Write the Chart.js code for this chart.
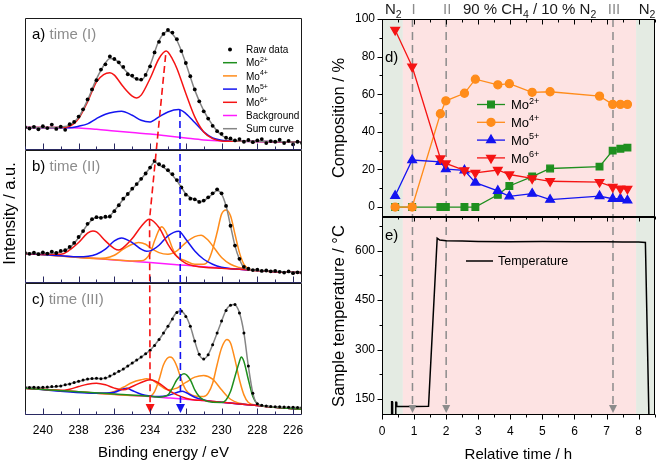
<!DOCTYPE html>
<html>
<head>
<meta charset="utf-8">
<script src="https://cdn.jsdelivr.net/npm/chart.js@4.4.0/dist/chart.umd.min.js"></script>
<style>
  html, body { margin: 0; padding: 0; background: #fff; }
  #wrap { position: relative; width: 661px; height: 464px; overflow: hidden; }
  #xps { position: absolute; left: 0; top: 0; }
  #evo { position: absolute; left: 330px; top: 0; }
</style>
</head>
<body>
<div id="wrap">
  <canvas id="xps" width="330" height="464"></canvas>
  <canvas id="evo" width="331" height="464"></canvas>
</div>
<script>
// ---------- XPS spectra (left), intensity in % of panel height ----------
var rawEnergy = [241, 240.75, 240.5, 240.25, 240, 239.75, 239.5, 239.25, 239, 238.75,
  238.5, 238.25, 238, 237.75, 237.5, 237.25, 237, 236.75, 236.5, 236.25,
  236, 235.75, 235.5, 235.25, 235, 234.75, 234.5, 234.25, 234, 233.75,
  233.5, 233.25, 233, 232.75, 232.5, 232.25, 232, 231.75, 231.5, 231.25,
  231, 230.75, 230.5, 230.25, 230, 229.75, 229.5, 229.25, 229, 228.75,
  228.5, 228.25, 228, 227.75, 227.5, 227.25, 227, 226.75, 226.5, 226.25,
  226, 225.75, 225.5];

var rawA = [17.5, 16.5, 17.8, 15.9, 18.2, 16.8, 19.5, 16.2, 17.9, 15.5,
  19.8, 21.5, 25.5, 31, 38.5, 46, 53, 61, 65, 71,
  69, 66.5, 63, 57.5, 56.5, 54, 53.5, 57, 63.5, 74,
  82, 88, 91, 89, 84, 75, 66, 56, 46, 37,
  29.5, 24, 18.5, 14.5, 12.5, 9.5, 9, 7.5, 8.5, 6.5,
  7.8, 6.2, 7.5, 8.5, 5.5, 7, 6.5, 8, 5.5, 7.2,
  4.5, 6.5, 5.5];
var rawB = [22.5, 21.8, 22.6, 21.5, 22.8, 22, 23.5, 22.4, 24, 24.5,
  27, 30, 34.5, 39, 44.5, 48, 49.5, 49, 49.8, 50,
  54, 58.5, 63.5, 67, 71, 74.5, 78.5, 82.5, 87, 92,
  89.5, 88, 85, 82, 77.5, 72, 66.5, 63.5, 63, 61,
  62, 64.5, 67.5, 70.5, 67.5, 58, 43, 28, 18, 12,
  10.5, 9.5, 9.8, 8.9, 9.2, 8.6, 8.9, 8.2, 7.6, 8.5,
  7.2, 7.8, 7.5];
var rawC = [21, 20.8, 21, 20.7, 20.9, 21.2, 21.5, 21.8, 22, 22.8,
  23.5, 24.5, 25.5, 26.5, 27.2, 27.5, 27.7, 27.4, 28, 29.5,
  31.2, 33, 34.8, 37, 39.3, 41.5, 43.8, 46.3, 49, 52.5,
  57, 62, 67, 72.5, 77.5, 78.5, 74.5, 67, 56, 46,
  42.3, 45.5, 53, 62, 71, 79, 83, 83.5, 77, 62,
  37, 16.5, 8.5, 7.3, 6.8, 6.5, 6.3, 6.2, 6, 5.9,
  5.8, 5.7, 5.6];

// fitted curves as [binding energy, intensity]
var sumA = [[241,17.2],[240,17.2],[239,17.7],[238.5,19],[238,25],[237.5,38],[237,54],[236.5,66],[236.25,69.4],[236,69],[235.5,62],[235,55.5],[234.5,53],[234,64.4],[233.5,83],[233,90],[232.5,83],[232,65.7],[231.5,45.5],[231,30],[230.5,19],[230,11.4],[229.5,8],[229,7],[228,6.8],[227,6.6],[226,6.3],[225.5,6.1]];
var mo6A = [[241,17.2],[239,17.2],[238.5,18.2],[238,24],[237.5,36.6],[237,51.8],[236.6,57.3],[236.25,58.6],[236,56.8],[235.5,48],[235,41],[234.75,39.6],[234.5,41.7],[234,54.3],[233.5,69.4],[233.1,75],[232.75,69],[232.5,61.9],[232,43],[231.5,25.3],[231,13.9],[230.5,8.8],[230,7.1],[229,6.8],[227,6.5],[225.5,6.2]];
var mo5A = [[241,17.2],[238.5,17],[238,18.2],[237.5,20],[237,24],[236.5,27.3],[236,29],[235.6,29.5],[235,26.5],[234.5,22.7],[234,21.5],[233.5,25.3],[233,29],[232.4,30.8],[232,27.8],[231.5,21],[231,13.9],[230.5,9.3],[230,7.6],[229.5,7],[229,6.8],[227,6.5],[225.5,6.2]];
var bgA = [[241,17.2],[239,17.2],[238,16.9],[237,15.9],[236,14.6],[235,13.4],[234,12.4],[233,10.9],[232,9.3],[231,7.8],[230,7],[229,6.8],[227,6.5],[225.5,6.2]];

var sumB = [[241,22.2],[240,22.2],[239,23.2],[238.5,26.5],[238,34],[237.5,44],[237.25,47.5],[237,49.2],[236.5,49.2],[236.25,50.5],[236,54.3],[235.5,63],[235,70.7],[234.5,78.3],[234,87],[233.75,91.2],[233.5,89],[233,84.6],[232.5,77],[232.25,72],[232,67],[231.75,64.4],[231.5,63],[231.2,61],[231,61.9],[230.5,67],[230.25,69.6],[230,67],[229.75,58],[229.5,43],[229.25,27.8],[229,17.7],[228.75,11.4],[228.5,10],[228,9.3],[227,8.6],[226,7.8],[225.5,7.6]];
var mo6B = [[241,22],[239,21.5],[238.5,24.7],[238,30.3],[237.5,37.4],[237.2,39.1],[237,38.4],[236.5,31.6],[236,25.8],[235.75,24.7],[235.5,26.5],[235,33.3],[234.5,42.4],[234.05,48],[233.5,41.7],[233,29],[232.5,19.7],[232,14.6],[231.5,12.6],[231,11.6],[230,10.8],[229,10.1],[228,9.1],[227,8.3],[225.5,7.6]];
var mo5B = [[241,22],[239,20.4],[238,19.5],[237,21.5],[236.5,25.3],[236,31.6],[235.6,33.8],[235,30.3],[234.5,25.3],[234.2,23.7],[234,24],[233.5,28.3],[233,35.4],[232.4,38.9],[232,32.8],[231.5,24],[231,17.7],[230.5,13.9],[230,11.6],[229.5,10.6],[229,10.1],[228,9.1],[227,8.3],[225.5,7.6]];
var mo4B1 = [[241,22],[238,19.2],[236,17.3],[235,16.4],[234.5,16.5],[234,22.2],[233.75,31.6],[233.5,39.9],[233.35,42.2],[233,35],[232.75,26],[232.5,20],[232,16.4],[231.5,13.9],[231,13.9],[230.75,16.4],[230.5,25.3],[230.25,37.9],[230,51.8],[229.75,55],[229.5,50.5],[229.25,36.6],[229,22.7],[228.75,13.9],[228.5,10.6],[228,9.1],[227,8.3],[225.5,7.6]];
var mo4B2 = [[241,22],[239,20.2],[237,18.3],[236.5,18.6],[236,20.7],[235.5,25.3],[235,29],[234.65,30.3],[234.25,29],[234,26.5],[233.5,22.7],[233,21.5],[232.5,24],[232,30.3],[231.5,34.8],[231.15,35.9],[230.75,32],[230.5,27.8],[230,19],[229.5,13.9],[229,11.4],[228.5,10],[228,9.1],[227,8.3],[225.5,7.6]];
var bgB = [[241,22],[240,21.2],[239,20.2],[238,19.2],[237,18.2],[236,17.2],[235,16.2],[234,15.2],[233,14.1],[232,13.1],[231,12.1],[230,11.1],[229,10.1],[228,9.1],[227,8.3],[226,7.8],[225.5,7.6]];

var sumC = [[241,21],[240,20.8],[239,22],[238.5,23.5],[238,25.3],[237.5,27.1],[237,27.6],[236.5,27.8],[236,31.1],[235.5,34.7],[235,39.2],[234.5,43.8],[234,48.9],[233.5,57],[233,67],[232.5,77.7],[232.3,78.5],[232,74.7],[231.75,67],[231.5,55.7],[231.25,45.6],[231,42.3],[230.75,45.6],[230.5,53.2],[230,70.9],[229.75,79.2],[229.5,83],[229.3,83.5],[229,77.2],[228.75,62],[228.5,36.7],[228.25,16.5],[228,8.4],[227.5,6.8],[227,6.3],[226,5.8],[225.5,5.6]];
var mo6C = [[241,20.3],[239,18.6],[238.5,19.5],[238,21.5],[237.5,23.3],[237,24],[236.5,22.8],[236,20.3],[235.5,19],[235,21.5],[234.5,24.6],[234,26.6],[233.5,24],[233,19],[232.5,15.2],[232,12.7],[231.5,11.4],[231,10.9],[230,9.6],[229,8.4],[228,7.1],[227,5.8],[226,4.8],[225.5,4.3]];
var mo5C = [[241,20.3],[237,16.5],[236.5,16.6],[236,17.2],[235.5,19.7],[235.3,20.3],[235,18.5],[234.5,15.7],[234,14.4],[233.5,13.9],[233,14.7],[232.5,17],[232.2,18],[232,17],[231.5,13.4],[231,11.4],[230.5,10.1],[230,9.6],[229,8.4],[228,7.1],[227,5.8],[226,4.8],[225.5,4.3]];
var mo4C1 = [[241,20.3],[238,17.5],[235,14.7],[234,14.4],[233.75,17.7],[233.5,26.6],[233.25,38],[232.9,43.8],[232.75,43],[232.5,36.7],[232.25,26.6],[232,19],[231.5,14.4],[231,13.9],[230.75,16.5],[230.5,24],[230.25,38],[230,50.6],[229.7,57],[229.5,54.4],[229.25,41.8],[229,26.6],[228.75,15.2],[228.5,9.4],[228,7.3],[227,5.8],[226,4.8],[225.5,4.3]];
var mo4C2 = [[241,20.3],[239,18.5],[237,16.5],[236.5,16.3],[236,17.7],[235.5,21],[235,24.6],[234.5,26.6],[234.2,27.3],[234,27.1],[233.5,22.8],[233,19],[232.5,20.3],[232,24.6],[231.5,28.6],[231,29.9],[230.5,27.1],[230,19],[229.5,11.9],[229,8.9],[228.5,7.8],[228,7.1],[227,5.8],[226,4.8],[225.5,4.3]];
var mo2C = [[241,20.3],[238,17.5],[236,15.8],[234,14.1],[233.5,13.5],[233,15.2],[232.75,20.3],[232.5,26.6],[232.1,31.1],[231.75,26.6],[231.5,19],[231.25,13.9],[231,11.4],[230.5,9.6],[230,9.5],[229.75,11.4],[229.5,17.7],[229.25,29.1],[229,40.5],[228.9,43.8],[228.75,40.5],[228.5,26.6],[228.25,13.9],[228,8.4],[227.5,6.6],[227,5.8],[226,4.8],[225.5,4.3]];
var bgC = [[241,20.3],[240,19.5],[239,18.5],[238,17.5],[237,16.5],[236,15.7],[235,14.7],[234,13.9],[233,12.9],[232,11.9],[231,10.9],[230,9.6],[229,8.4],[228,7.1],[227,5.8],[226,4.8],[225.5,4.3]];

// peak shift guides (energy, intensity in panel)
var mo6Guide = { e: [233.13, 234.03, 234.0], i: [72, 48] };
var mo5Guide = { e: [232.33, 232.3], i: [30.5] };

var panelTags = ['a)', 'b)', 'c)'];
var panelTimes = ['time (I)', 'time (II)', 'time (III)'];

// ---------- composition (d) and temperature (e) ----------
var compTime = [0.41, 0.94, 1.82, 1.99, 2.57, 2.91, 3.61, 3.97, 4.68, 5.24, 6.78, 7.19, 7.43, 7.65];
var mo2 = [0, 0, 0, 0, 0, 0, 6.5, 11.2, 16.2, 20.5, 21.5, 30, 31, 31.6];
var mo4 = [0, 0, 49.6, 56.5, 60.5, 68, 65, 65.6, 61, 61.3, 59, 54.6, 54.6, 54.6];
var mo5 = [6, 25, 24, 20.2, 19.5, 13, 8.6, 5.7, 7.1, 3.9, 5.8, 4.4, 4.4, 3.5];
var mo6 = [94.2, 74.7, 25.8, 23.2, 19.5, 18.2, 19.7, 17.3, 15.2, 13.7, 13.3, 10.7, 9.8, 9.7];

var tempTime = [0.29, 0.30, 0.32, 0.33, 0.42, 0.43, 0.45, 0.46, 1.0, 1.45, 1.72, 1.80, 2.0, 2.5, 3.0, 4.0, 5.0, 6.0, 7.0, 7.5, 8.0, 8.21, 8.32];
var tempVal = [95, 142, 142, 95, 95, 140, 140, 127, 127, 128, 638, 632, 630, 629, 628, 627, 628, 627, 627, 626, 626, 625, 95];

var timeTicks = [0, 1, 2, 3, 4, 5, 6, 7, 8];
var compTicks = [0, 20, 40, 60, 80, 100];
var tempTicks = [150, 300, 450, 600];

var gasEdges = [0, 0.65, 7.92, 8.5];   // N2 | CH4/N2 | N2
var markTimes = [0.95, 2.0, 7.2];
var markLabels = ['I', 'II', 'III'];

var C = {
  mo2: '#1f8f1f', mo4: '#ff8c1a', mo5: '#1414f0', mo6: '#f51414',
  bg: '#ff1aff', sum: '#858585', gray: '#8c8c8c'
};
var FONT = '"Liberation Sans", Arial, Helvetica, sans-serif';
Chart.defaults.font.family = FONT;
Chart.defaults.color = '#000';

function toXY(xs, ys) { return xs.map(function (x, i) { return { x: x, y: ys[i] }; }); }
function pairs(list) { return list.map(function (p) { return { x: p[0], y: p[1] }; }); }
function fnt(size) { return size + 'px ' + FONT; }
function fixedTicks(values) {
  return function (s) { s.ticks = values.map(function (v) { return { value: v }; }); };
}

function drawRich(ctx, parts, x, y, size, align, color) {
  var w = 0;
  parts.forEach(function (p) { ctx.font = fnt(p.s ? size * 0.7 : size); w += ctx.measureText(p.t).width; });
  if (align === 'center') x -= w / 2;
  ctx.textAlign = 'left';
  ctx.textBaseline = 'alphabetic';
  parts.forEach(function (p) {
    ctx.font = fnt(p.s ? size * 0.7 : size);
    ctx.fillStyle = p.c || color || '#000';
    var dy = p.s === 'sub' ? size * 0.28 : (p.s === 'sup' ? -size * 0.42 : 0);
    ctx.fillText(p.t, x, y + dy);
    x += ctx.measureText(p.t).width;
  });
}
function mo(sup) { return [{ t: 'Mo' }, { t: sup, s: 'sup' }]; }

function curve(list, color, axis) {
  return { data: pairs(list), borderColor: color, borderWidth: 1.5, pointRadius: 0,
    cubicInterpolationMode: 'monotone', yAxisID: axis, fill: false };
}
function dots(ys, axis, r) {
  return { data: toXY(rawEnergy, ys), showLine: false, pointRadius: r, pointBorderWidth: 0,
    pointBackgroundColor: '#000', borderColor: '#000', yAxisID: axis };
}

var xpsSets = [
  dots(rawA, 'yA', 1.9), dots(rawB, 'yB', 1.9), dots(rawC, 'yC', 1.5),
  curve(sumA, C.sum, 'yA'), curve(sumB, C.sum, 'yB'), curve(sumC, C.sum, 'yC'),
  curve(mo6A, C.mo6, 'yA'), curve(mo5A, C.mo5, 'yA'),
  curve(mo6B, C.mo6, 'yB'), curve(mo5B, C.mo5, 'yB'), curve(mo4B1, C.mo4, 'yB'), curve(mo4B2, C.mo4, 'yB'),
  curve(mo2C, C.mo2, 'yC'), curve(mo6C, C.mo6, 'yC'), curve(mo5C, C.mo5, 'yC'), curve(mo4C1, C.mo4, 'yC'), curve(mo4C2, C.mo4, 'yC'),
  curve(bgA, C.bg, 'yA'), curve(bgB, C.bg, 'yB'), curve(bgC, C.bg, 'yC')
];

var xpsLegend = [
  { label: [{ t: 'Raw data' }], dot: true },
  { label: mo('2+'), color: C.mo2 },
  { label: mo('4+'), color: C.mo4 },
  { label: mo('5+'), color: C.mo5 },
  { label: mo('6+'), color: C.mo6 },
  { label: [{ t: 'Background' }], color: C.bg },
  { label: [{ t: 'Sum curve' }], color: C.sum }
];

var xpsDecor = {
  id: 'xpsDecor',
  afterDatasetsDraw: function (chart) {
    var ctx = chart.ctx, area = chart.chartArea, sx = chart.scales.x;
    var panels = [chart.scales.yA, chart.scales.yB, chart.scales.yC];
    var L = Math.round(area.left) + 0.5, R = Math.round(area.right) - 0.5;
    ctx.save();
    // guides
    var yA = panels[0], yB = panels[1], yC = panels[2];
    var tip = yC.bottom - 2, base = yC.bottom - 11;
    ctx.lineWidth = 1.6;
    ctx.setLineDash([7, 4]);
    ctx.strokeStyle = C.mo6;
    ctx.beginPath();
    ctx.moveTo(sx.getPixelForValue(mo6Guide.e[0]), yA.getPixelForValue(mo6Guide.i[0]));
    ctx.lineTo(sx.getPixelForValue(mo6Guide.e[1]), yB.getPixelForValue(mo6Guide.i[1]));
    ctx.lineTo(sx.getPixelForValue(mo6Guide.e[2]), base);
    ctx.stroke();
    ctx.strokeStyle = C.mo5;
    ctx.beginPath();
    ctx.moveTo(sx.getPixelForValue(mo5Guide.e[0]), yA.getPixelForValue(mo5Guide.i[0]));
    ctx.lineTo(sx.getPixelForValue(mo5Guide.e[1]), base);
    ctx.stroke();
    ctx.setLineDash([]);
    [[mo6Guide.e[2], C.mo6], [mo5Guide.e[1], C.mo5]].forEach(function (a) {
      var px = sx.getPixelForValue(a[0]);
      ctx.fillStyle = a[1];
      ctx.beginPath(); ctx.moveTo(px - 4.5, base); ctx.lineTo(px + 4.5, base); ctx.lineTo(px, tip); ctx.closePath(); ctx.fill();
    });

    // frames and ticks
    panels.forEach(function (p, i) {
      var T = Math.round(p.top) + 0.5, B = Math.round(p.bottom) - 0.5;
      ctx.lineWidth = 1;
      ctx.strokeStyle = '#1a1a1a';
      ctx.beginPath(); ctx.moveTo(L, B); ctx.lineTo(L, T); ctx.lineTo(R, T); ctx.lineTo(R, B); ctx.stroke();
      ctx.strokeStyle = '#2a2a62';
      ctx.beginPath(); ctx.moveTo(L, B); ctx.lineTo(R, B);
      for (var e = 226; e <= 241; e++) {
        var px = Math.round(sx.getPixelForValue(e)) + 0.5;
        ctx.moveTo(px, B); ctx.lineTo(px, B - (e % 2 === 0 ? 6 : 3));
      }
      ctx.stroke();
      drawRich(ctx, [{ t: panelTags[i] + ' ' }, { t: panelTimes[i], c: '#8c8c8c' }], area.left + 7, p.top + 21, 15);
    });

    // legend in panel a
    var lx = area.right - 79, ty = yA.top + 31.5;
    xpsLegend.forEach(function (it, k) {
      var y = ty + k * 13.2;
      if (it.dot) {
        ctx.fillStyle = '#000';
        ctx.beginPath(); ctx.arc(lx + 7, y, 2, 0, Math.PI * 2); ctx.fill();
      } else {
        ctx.strokeStyle = it.color; ctx.lineWidth = 1.5;
        ctx.beginPath(); ctx.moveTo(lx, y); ctx.lineTo(lx + 14, y); ctx.stroke();
      }
      drawRich(ctx, it.label, lx + 23, y + 3.6, 10);
    });

    // y title
    ctx.translate(10, (area.top + area.bottom) / 2 - 3);
    ctx.rotate(-Math.PI / 2);
    ctx.font = fnt(16.5); ctx.fillStyle = '#000';
    ctx.textAlign = 'center'; ctx.textBaseline = 'middle';
    ctx.fillText('Intensity / a.u.', 0, 0);
    ctx.restore();
  }
};

new Chart(document.getElementById('xps'), {
  type: 'line',
  data: { datasets: xpsSets },
  options: {
    responsive: false, animation: false, events: [],
    layout: { padding: { left: 25, top: 18, right: 28, bottom: 0 } },
    plugins: { legend: { display: false }, tooltip: { enabled: false } },
    scales: {
      x: {
        type: 'linear', reverse: true, min: 225.5, max: 241,
        grid: { display: false, drawTicks: false }, border: { display: false },
        ticks: { stepSize: 2, includeBounds: false, padding: 8, font: { size: 12 } },
        title: { display: true, text: 'Binding energy / eV', font: { size: 15 }, padding: { top: 0, bottom: 2 } },
        afterFit: function (s) { s.height = 49; }
      },
      yA: { display: false, stack: 'xps', stackWeight: 1, weight: 3, min: 0, max: 100 },
      yB: { display: false, stack: 'xps', stackWeight: 1, weight: 2, min: 0, max: 100 },
      yC: { display: false, stack: 'xps', stackWeight: 1, weight: 1, min: 0, max: 100 }
    }
  },
  plugins: [xpsDecor]
});

// ---------- right: composition and temperature ----------
var compSets = [
  { label: 'Mo6+', data: toXY(compTime, mo6), borderColor: C.mo6, backgroundColor: C.mo6, pointStyle: 'triangle', pointRotation: 180, pointRadius: 5, borderWidth: 1.3, yAxisID: 'yD' },
  { label: 'Mo5+', data: toXY(compTime, mo5), borderColor: C.mo5, backgroundColor: C.mo5, pointStyle: 'triangle', pointRadius: 5, borderWidth: 1.3, yAxisID: 'yD' },
  { label: 'Mo4+', data: toXY(compTime, mo4), borderColor: C.mo4, backgroundColor: C.mo4, pointStyle: 'circle', pointRadius: 4, borderWidth: 1.3, yAxisID: 'yD' },
  { label: 'Mo2+', data: toXY(compTime, mo2), borderColor: C.mo2, backgroundColor: C.mo2, pointStyle: 'rect', pointRadius: 4.7, borderWidth: 1.3, yAxisID: 'yD' },
  { label: 'Temperature', data: toXY(tempTime, tempVal), borderColor: '#000', borderWidth: 1.5, pointRadius: 0, yAxisID: 'yE' }
];

var compLegend = [
  { sup: '2+', color: C.mo2, style: 'rect', r: 4.7, rot: 0 },
  { sup: '4+', color: C.mo4, style: 'circle', r: 4, rot: 0 },
  { sup: '5+', color: C.mo5, style: 'triangle', r: 5, rot: 0 },
  { sup: '6+', color: C.mo6, style: 'triangle', r: 5, rot: 180 }
];

var evoDecor = {
  id: 'evoDecor',
  beforeDatasetsDraw: function (chart) {
    var ctx = chart.ctx, area = chart.chartArea, sx = chart.scales.x;
    ctx.save();
    var fills = ['#e4ebe3', '#fde3e3', '#e4ebe3'];
    for (var k = 0; k < gasEdges.length - 1; k++) {
      var x1 = sx.getPixelForValue(gasEdges[k]), x2 = sx.getPixelForValue(gasEdges[k + 1]);
      ctx.fillStyle = fills[k];
      ctx.fillRect(x1, area.top, x2 - x1, area.bottom - area.top);
    }
    ctx.strokeStyle = C.gray; ctx.lineWidth = 1.5; ctx.setLineDash([8, 5]);
    markTimes.forEach(function (t) {
      var px = sx.getPixelForValue(t);
      ctx.beginPath(); ctx.moveTo(px, area.top); ctx.lineTo(px, area.bottom - 10); ctx.stroke();
    });
    ctx.restore();
  },
  afterDatasetsDraw: function (chart) {
    var ctx = chart.ctx, area = chart.chartArea, sx = chart.scales.x;
    var yD = chart.scales.yD, yE = chart.scales.yE;
    var L = Math.round(area.left) + 0.5, R = Math.round(area.right) - 0.5;
    ctx.save();
    // arrowheads
    ctx.fillStyle = C.gray;
    markTimes.forEach(function (t) {
      var px = sx.getPixelForValue(t), b = yE.bottom;
      ctx.beginPath(); ctx.moveTo(px - 4, b - 10); ctx.lineTo(px + 4, b - 10); ctx.lineTo(px, b - 2); ctx.closePath(); ctx.fill();
    });
    // frames
    ctx.strokeStyle = '#000'; ctx.lineWidth = 1;
    [yD, yE].forEach(function (p) {
      ctx.strokeRect(L, Math.round(p.top) + 0.5, R - L, Math.round(p.bottom) - Math.round(p.top) - 1);
    });
    ctx.beginPath();
    var v, px, py;
    for (v = 0; v <= 100; v += 10) {
      py = Math.round(yD.getPixelForValue(v)) + 0.5;
      ctx.moveTo(L, py); ctx.lineTo(L - (v % 20 === 0 ? 5 : 3), py);
    }
    for (v = 150; v <= 675; v += 75) {
      py = Math.round(yE.getPixelForValue(v)) + 0.5;
      ctx.moveTo(L, py); ctx.lineTo(L - (v % 150 === 0 ? 5 : 3), py);
    }
    for (v = 0; v <= 8.5; v += 0.5) {
      px = Math.round(sx.getPixelForValue(v)) + 0.5;
      var len = (v % 1 === 0) ? 5 : 3;
      var eb = Math.round(yE.bottom) - 0.5, db = Math.round(yD.bottom) - 0.5, dt = Math.round(yD.top) + 0.5;
      ctx.moveTo(px, eb); ctx.lineTo(px, eb + len);
      ctx.moveTo(px, db); ctx.lineTo(px, db + len);
      ctx.moveTo(px, dt); ctx.lineTo(px, dt + len);
    }
    ctx.stroke();

    // top labels
    var ty = 13.5;
    drawRich(ctx, [{ t: 'N' }, { t: '2', s: 'sub' }], sx.getPixelForValue(0.35), ty, 15, 'center', '#1a1a1a');
    drawRich(ctx, [{ t: 'N' }, { t: '2', s: 'sub' }], sx.getPixelForValue(8.26), ty, 15, 'center', '#1a1a1a');
    drawRich(ctx, [{ t: '90 % CH' }, { t: '4', s: 'sub' }, { t: ' / 10 % N' }, { t: '2', s: 'sub' }],
      sx.getPixelForValue(4.6), ty, 15, 'center', '#1a1a1a');
    markTimes.forEach(function (t, k) {
      drawRich(ctx, [{ t: markLabels[k] }], sx.getPixelForValue(t) + 1, ty, 15, 'center', '#8c8c8c');
    });

    // panel tags
    drawRich(ctx, [{ t: 'd)' }], area.left + 3, yD.top + 43, 15);
    drawRich(ctx, [{ t: 'e)' }], area.left + 3, yE.top + 23, 15);

    // composition legend
    var lx = area.left + 95, ly = yD.top + 85.5;
    compLegend.forEach(function (it, k) {
      var y = ly + k * 17.8;
      ctx.strokeStyle = it.color; ctx.fillStyle = it.color; ctx.lineWidth = 1.3;
      ctx.beginPath(); ctx.moveTo(lx, y); ctx.lineTo(lx + 28, y); ctx.stroke();
      Chart.helpers.drawPoint(ctx, { pointStyle: it.style, radius: it.r, rotation: it.rot, borderWidth: 1 }, lx + 14, y);
      drawRich(ctx, mo(it.sup), lx + 34, y + 4.6, 13);
    });

    // temperature legend
    var tx = area.left + 84, tyL = yE.top + 44;
    ctx.strokeStyle = '#000'; ctx.lineWidth = 1.5;
    ctx.beginPath(); ctx.moveTo(tx, tyL); ctx.lineTo(tx + 27, tyL); ctx.stroke();
    drawRich(ctx, [{ t: 'Temperature' }], tx + 32, tyL + 4.4, 12.5);
    ctx.restore();
  }
};

new Chart(document.getElementById('evo'), {
  type: 'line',
  data: { datasets: compSets },
  options: {
    responsive: false, animation: false, events: [],
    layout: { padding: { left: 0, top: 19, right: 3, bottom: 0 } },
    plugins: { legend: { display: false }, tooltip: { enabled: false } },
    scales: {
      x: {
        type: 'linear', min: 0, max: 8.5,
        grid: { display: false, drawTicks: false }, border: { display: false },
        ticks: { padding: 9, font: { size: 12 } },
        afterBuildTicks: fixedTicks(timeTicks),
        title: { display: true, text: 'Relative time / h', font: { size: 15 }, padding: { top: 0, bottom: 0 } },
        afterFit: function (s) { s.height = 49; }
      },
      yD: {
        position: 'left', stack: 'rt', stackWeight: 1, weight: 2, min: -5.3, max: 100,
        grid: { display: false, drawTicks: false }, border: { display: false },
        ticks: { padding: 7, font: { size: 12 } },
        afterBuildTicks: fixedTicks(compTicks),
        title: { display: true, text: 'Composition / %', font: { size: 16.5 }, padding: { top: 0, bottom: 0 } },
        afterFit: function (s) { s.width = 52; }
      },
      yE: {
        position: 'left', stack: 'rt', stackWeight: 1, weight: 1, min: 101.5, max: 702,
        grid: { display: false, drawTicks: false }, border: { display: false },
        ticks: { padding: 7, font: { size: 12 } },
        afterBuildTicks: fixedTicks(tempTicks),
        title: { display: true, text: 'Sample temperature / °C', font: { size: 16.5 }, padding: { top: 0, bottom: 0 } },
        afterFit: function (s) { s.width = 52; }
      }
    }
  },
  plugins: [evoDecor]
});
</script>
</body>
</html>
